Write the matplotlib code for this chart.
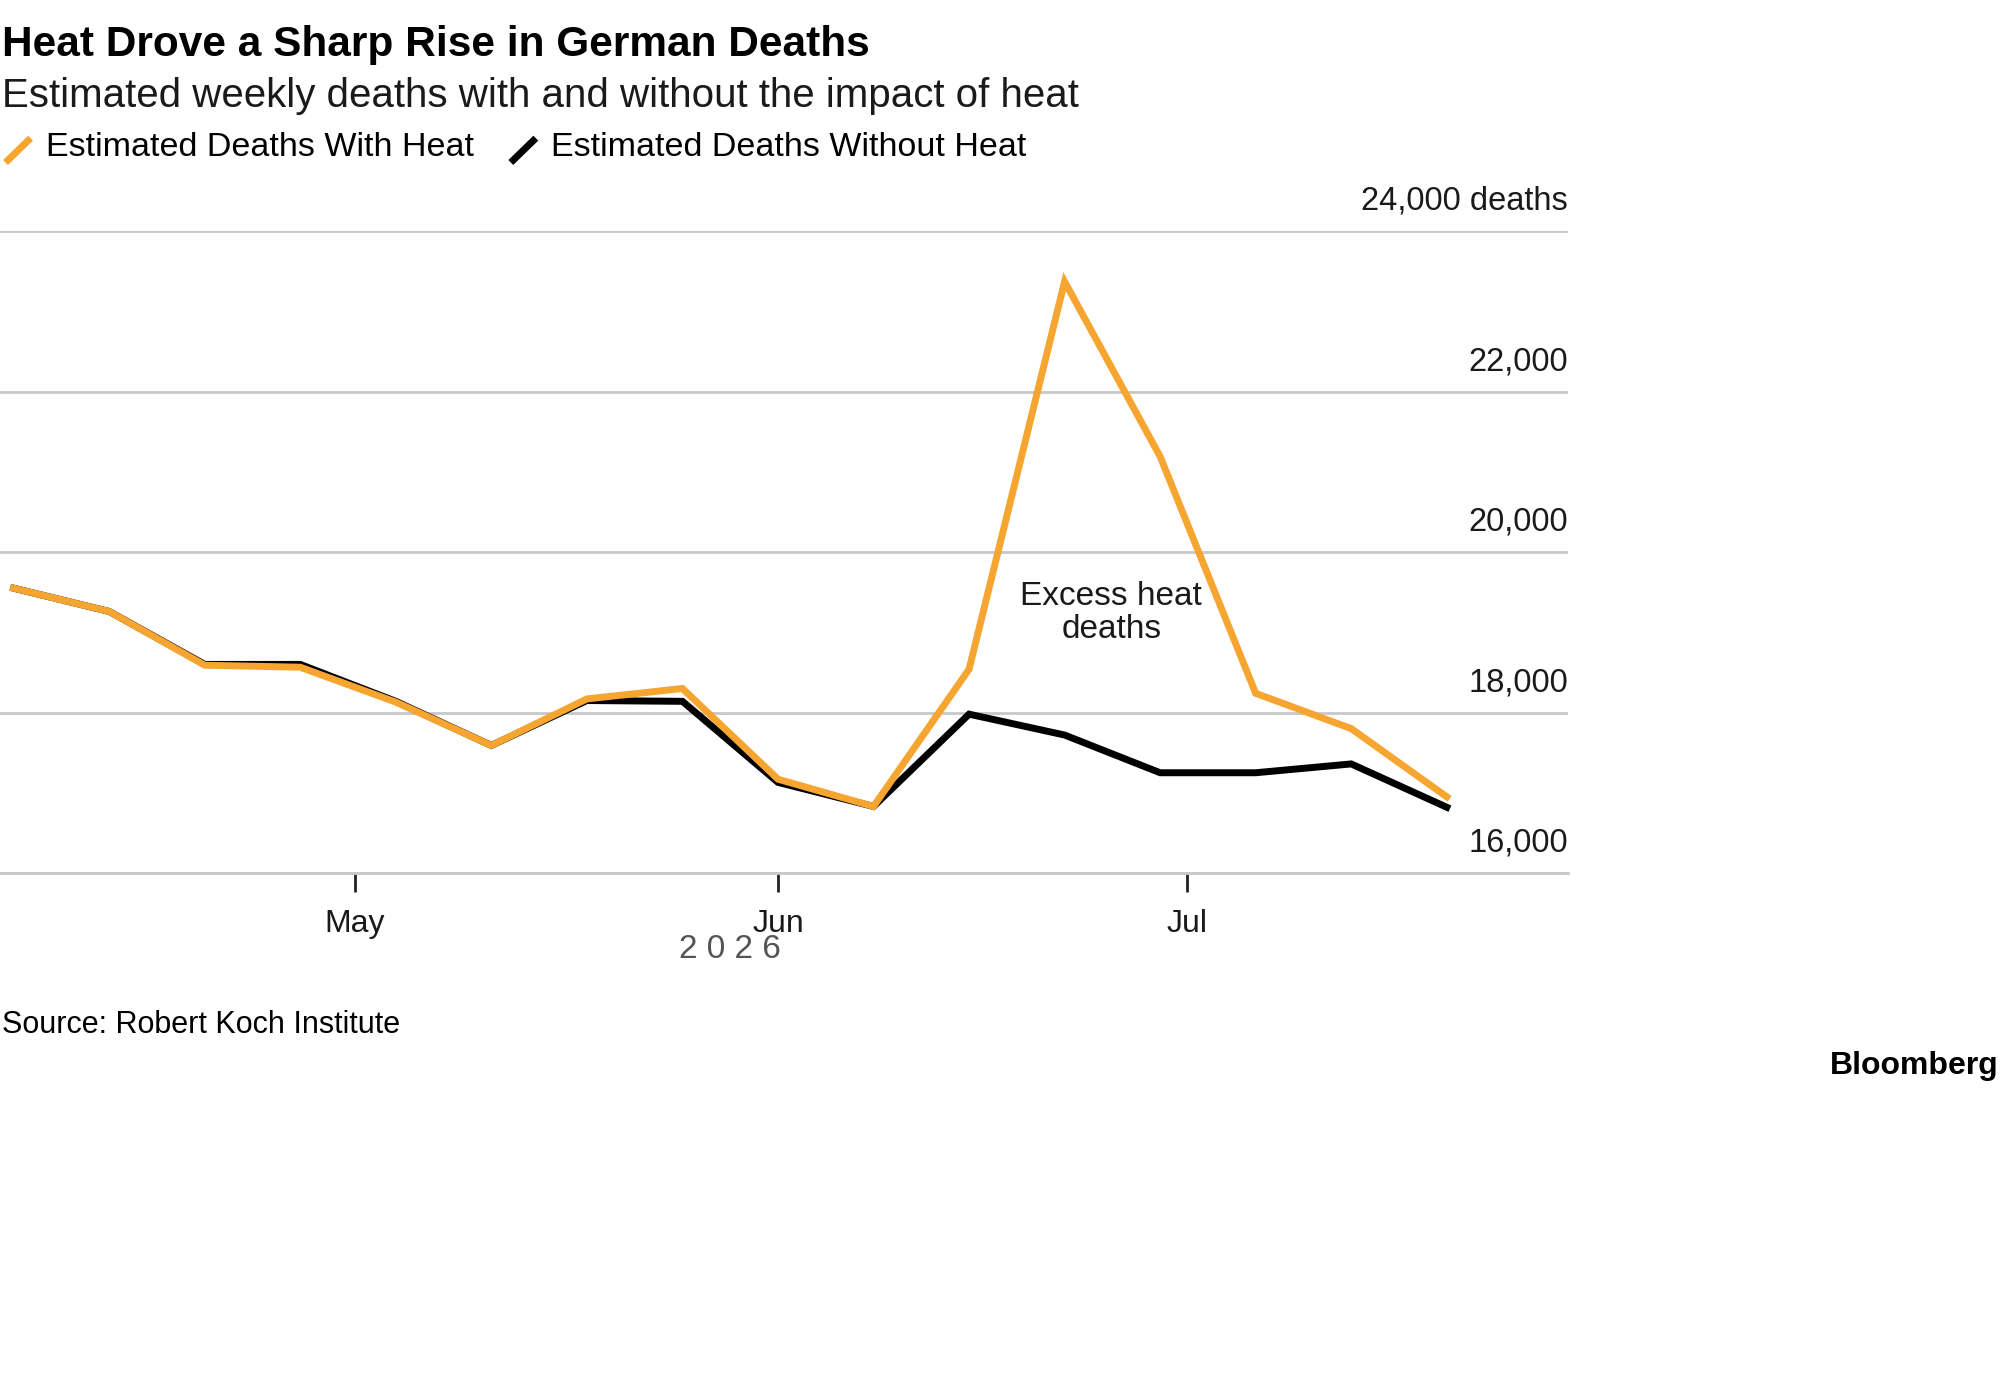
import numpy as np
import pandas as pd
import matplotlib
matplotlib.use("Agg")
import matplotlib.pyplot as plt
import matplotlib.dates as mdates
from matplotlib.lines import Line2D

plt.rcParams['font.family'] = ['Liberation Sans', 'DejaVu Sans']

# Data: weekly estimates
weeks = pd.date_range("2026-04-06", periods=16, freq="7D")
with_heat = [19550, 19260, 18590, 18565, 18130, 17590, 18170, 18300,
             17170, 16830, 18540, 23370, 21190, 18240, 17800, 16950]
without_heat = [19550, 19260, 18600, 18600, 18140, 17590, 18150, 18140,
                17130, 16830, 17980, 17720, 17250, 17250, 17360, 16820]
y_ticks = [16000, 18000, 20000, 22000, 24000]
y_labels = ["16,000", "18,000", "20,000", "22,000", "24,000 deaths"]

ORANGE = "#f7a531"

fig = plt.figure(figsize=(20.05, 13.92), dpi=100)
ax = fig.add_axes([0.0, 0.3728, 0.782, 0.4612])

ax.plot(weeks, without_heat, color="black", lw=5, solid_joinstyle="miter")
ax.plot(weeks, with_heat, color=ORANGE, lw=5, solid_joinstyle="miter")

ax.set_xlim(pd.Timestamp("2026-04-05 00:00"), pd.Timestamp("2026-07-28 21:00"))
ax.set_ylim(16000, 24000)
ax.set_yticks(y_ticks)
ax.set_yticklabels([])
ax.tick_params(axis="y", length=0)
ax.grid(axis="y", color="#c8c8c8", lw=2)
for s in ["top", "right", "left"]:
    ax.spines[s].set_visible(False)
ax.spines["bottom"].set_color("#c8c8c8")
ax.spines["bottom"].set_linewidth(2)

for v, lab in zip(y_ticks, y_labels):
    ax.text(1.0, v + 180, lab, transform=ax.get_yaxis_transform(),
            ha="right", va="bottom", fontsize=23.5, color="#1a1a1a")

ax.xaxis.set_major_locator(mdates.MonthLocator(bymonth=[5, 6, 7]))
ax.xaxis.set_major_formatter(mdates.DateFormatter("%b"))
ax.tick_params(axis="x", length=14, width=2, color="#222222",
               labelsize=23, pad=12, labelcolor="#1a1a1a")

ax.text(pd.Timestamp("2026-06-25 10:00"), 19240, "Excess heat\ndeaths", ha="center",
        va="center", fontsize=24, color="#1a1a1a", linespacing=1.1)

fig.text(0.364, 0.318, "2 0 2 6", ha="center", va="center", fontsize=24, color="#555555")

fig.text(0.001, 0.982, "Heat Drove a Sharp Rise in German Deaths", fontsize=30.5,
         fontweight="bold", va="top", ha="left")
fig.text(0.001, 0.945, "Estimated weekly deaths with and without the impact of heat",
         fontsize=29, va="top", ha="left", color="#1a1a1a")

# Legend
fig.add_artist(Line2D([0.004, 0.014], [0.885, 0.899], color=ORANGE, lw=5))
fig.text(0.023, 0.894, "Estimated Deaths With Heat", fontsize=24.5, va="center")
fig.add_artist(Line2D([0.256, 0.266], [0.885, 0.899], color="black", lw=5))
fig.text(0.275, 0.894, "Estimated Deaths Without Heat", fontsize=24.5, va="center")

fig.text(0.001, 0.264, "Source: Robert Koch Institute", fontsize=22, va="center")
fig.text(0.997, 0.234, "Bloomberg", fontsize=23, fontweight="bold", va="center", ha="right")

fig.savefig("out.png", dpi=100, facecolor="white")
